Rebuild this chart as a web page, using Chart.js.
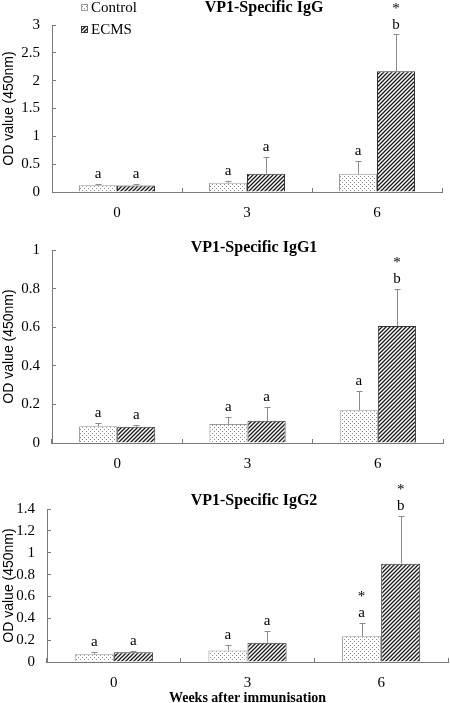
<!DOCTYPE html>
<html>
<head>
<meta charset="utf-8">
<script src="https://cdn.jsdelivr.net/npm/chart.js@4.4.1/dist/chart.umd.min.js"></script>
<style>
  html, body { margin: 0; padding: 0; background: #fff; overflow: hidden; }
  .panel { position: absolute; left: 0; }
</style>
</head>
<body>
<canvas id="chartIgG" class="panel" width="450" height="225" style="top:0"></canvas>
<canvas id="chartIgG1" class="panel" width="450" height="250" style="top:225px"></canvas>
<canvas id="chartIgG2" class="panel" width="450" height="230" style="top:475px"></canvas>
<script>
// Data
const weeks = ['0', '3', '6'];
const groupNames = ['Control', 'ECMS'];

// VP1-specific IgG
const iggControl = [0.12, 0.165, 0.33];
const iggControlSd = [0.025, 0.035, 0.225];
const iggEcms = [0.115, 0.33, 2.17];
const iggEcmsSd = [0.025, 0.305, 0.67];
const iggControlStars = [false, false, false];
const iggEcmsStars = [false, false, true];

// VP1-specific IgG1
const igg1Control = [0.087, 0.099, 0.17];
const igg1ControlSd = [0.017, 0.034, 0.099];
const igg1Ecms = [0.084, 0.115, 0.606];
const igg1EcmsSd = [0.01, 0.072, 0.19];
const igg1ControlStars = [false, false, false];
const igg1EcmsStars = [false, false, true];

// VP1-specific IgG2
const igg2Control = [0.07, 0.105, 0.235];
const igg2ControlSd = [0.017, 0.047, 0.12];
const igg2Ecms = [0.09, 0.177, 0.9];
const igg2EcmsSd = [0.012, 0.107, 0.435];
const igg2ControlStars = [false, false, true];
const igg2EcmsStars = [false, false, true];

const controlLetters = ['a', 'a', 'a'];
const ecmsLetters = ['a', 'a', 'b'];

const SERIF = "'Liberation Serif', 'Times New Roman', serif";
const SANS = "'Liberation Sans', Arial, sans-serif";
const AXIS = '#7a7a7a';

// Fill patterns
function dotPattern(ctx) {
    const c = document.createElement('canvas');
    c.width = 4; c.height = 4;
    const g = c.getContext('2d');
    g.fillStyle = '#fff';
    g.fillRect(0, 0, 4, 4);
    g.fillStyle = '#8a8a8a';
    g.fillRect(0, 0, 1, 1);
    g.fillRect(2, 2, 1, 1);
    return ctx.createPattern(c, 'repeat');
}

function hatchPattern(ctx) {
    const c = document.createElement('canvas');
    c.width = 4; c.height = 4;
    const g = c.getContext('2d');
    g.fillStyle = '#fff';
    g.fillRect(0, 0, 4, 4);
    g.strokeStyle = '#1a1a1a';
    g.lineWidth = 1.3;
    g.beginPath();
    g.moveTo(-1, 5); g.lineTo(5, -1);
    g.moveTo(-1, 1); g.lineTo(1, -1);
    g.moveTo(3, 5); g.lineTo(5, 3);
    g.stroke();
    return ctx.createPattern(c, 'repeat');
}

// Error bars, significance letters, panel title and legend
const decorations = {
    id: 'decorations',
    afterDatasetsDraw(chart, args, opts) {
        const ctx = chart.ctx;
        const yScale = chart.scales.y;
        ctx.save();
        chart.data.datasets.forEach((ds, i) => {
            const meta = chart.getDatasetMeta(i);
            meta.data.forEach((bar, j) => {
                const capY = yScale.getPixelForValue(ds.data[j] + ds.sd[j]);
                const x = Math.round(bar.x) + 0.5;
                const cy = Math.round(capY) + 0.5;
                ctx.strokeStyle = '#8c8c8c';
                ctx.lineWidth = 1;
                ctx.beginPath();
                ctx.moveTo(x, bar.y);
                ctx.lineTo(x, cy);
                ctx.moveTo(x - 3, cy);
                ctx.lineTo(x + 3, cy);
                ctx.stroke();

                ctx.fillStyle = '#000';
                ctx.font = '15px ' + SERIF;
                ctx.textAlign = 'center';
                ctx.textBaseline = 'alphabetic';
                let base = capY - opts.gap;
                if (ds.stars[j]) {
                    let starBase = base - 19;
                    if (starBase < 10) { starBase = 10; base = starBase + 19; }
                    ctx.fillText('*', bar.x, starBase + 3);
                }
                ctx.fillText(ds.letters[j], bar.x, base);
            });
        });

        ctx.fillStyle = '#000';
        ctx.font = 'bold 16px ' + SERIF;
        ctx.textAlign = 'center';
        ctx.textBaseline = 'middle';
        ctx.fillText(opts.title, opts.titleX, opts.titleY);

        if (opts.legend) {
            chart.data.datasets.forEach((ds, i) => {
                const top = 4 + i * 22;
                ctx.fillStyle = ds.backgroundColor;
                ctx.fillRect(81, top, 7, 7);
                ctx.strokeStyle = ds.borderColor;
                ctx.lineWidth = 1;
                ctx.strokeRect(81.5, top + 0.5, 6, 6);
                ctx.fillStyle = '#000';
                ctx.font = '15px ' + SERIF;
                ctx.textAlign = 'left';
                ctx.textBaseline = 'middle';
                ctx.fillText(ds.label, 91, top + 4);
            });
        }
        ctx.restore();
    }
};

function makeChart(id, series, panel) {
    const ctx = document.getElementById(id).getContext('2d');
    const dots = dotPattern(ctx);
    const hatch = hatchPattern(ctx);

    return new Chart(ctx, {
        type: 'bar',
        data: {
            labels: weeks,
            datasets: [
                {
                    label: groupNames[0],
                    data: series.control,
                    sd: series.controlSd,
                    letters: controlLetters,
                    stars: series.controlStars,
                    backgroundColor: dots,
                    borderColor: '#9a9a9a',
                    borderWidth: 1,
                    categoryPercentage: 0.585,
                    barPercentage: 1
                },
                {
                    label: groupNames[1],
                    data: series.ecms,
                    sd: series.ecmsSd,
                    letters: ecmsLetters,
                    stars: series.ecmsStars,
                    backgroundColor: hatch,
                    borderColor: '#333',
                    borderWidth: 1,
                    categoryPercentage: 0.585,
                    barPercentage: 1
                }
            ]
        },
        options: {
            responsive: false,
            animation: false,
            layout: { padding: { top: panel.top, right: panel.right, left: 0, bottom: 0 } },
            plugins: {
                legend: { display: false },
                tooltip: { enabled: false },
                decorations: {
                    gap: 6,
                    title: panel.title,
                    titleX: panel.titleX,
                    titleY: panel.titleY,
                    legend: panel.legend
                }
            },
            scales: {
                x: {
                    grid: { display: true, drawOnChartArea: false, tickLength: -4, color: AXIS, offset: true },
                    border: { color: AXIS },
                    ticks: { color: '#000', font: { family: SERIF, size: 15 }, padding: 16 },
                    title: {
                        display: !!panel.xTitle,
                        text: panel.xTitle || '',
                        color: '#000',
                        font: { family: SERIF, size: 14, weight: 'bold', lineHeight: 1 },
                        padding: 0
                    },
                    afterFit(scale) { scale.height = panel.xHeight; }
                },
                y: {
                    min: 0,
                    max: panel.max,
                    grid: { display: true, drawOnChartArea: false, tickLength: -4, color: AXIS },
                    border: { color: AXIS },
                    ticks: {
                        stepSize: panel.step,
                        color: '#000',
                        font: { family: SERIF, size: 15 },
                        padding: 16,
                        callback: v => String(Math.round(v * 100) / 100)
                    },
                    title: {
                        display: true,
                        text: 'OD value (450nm)',
                        color: '#000',
                        font: { family: SANS, size: 14 },
                        padding: { top: 1, bottom: 0 }
                    },
                    afterFit(scale) { scale.width = panel.yWidth; }
                }
            }
        },
        plugins: [decorations]
    });
}

makeChart('chartIgG',
    { control: iggControl, controlSd: iggControlSd, ecms: iggEcms, ecmsSd: iggEcmsSd,
      controlStars: iggControlStars, ecmsStars: iggEcmsStars },
    { max: 3, step: 0.5, top: 20, right: 8, yWidth: 52, xHeight: 33,
      title: 'VP1-Specific IgG', titleX: 264, titleY: 8, legend: true });

makeChart('chartIgG1',
    { control: igg1Control, controlSd: igg1ControlSd, ecms: igg1Ecms, ecmsSd: igg1EcmsSd,
      controlStars: igg1ControlStars, ecmsStars: igg1EcmsStars },
    { max: 1, step: 0.2, top: 22, right: 7, yWidth: 52, xHeight: 32,
      title: 'VP1-Specific IgG1', titleX: 254, titleY: 23, legend: false });

makeChart('chartIgG2',
    { control: igg2Control, controlSd: igg2ControlSd, ecms: igg2Ecms, ecmsSd: igg2EcmsSd,
      controlStars: igg2ControlStars, ecmsStars: igg2EcmsStars },
    { max: 1.4, step: 0.2, top: 34, right: 2, yWidth: 47, xHeight: 43,
      title: 'VP1-Specific IgG2', titleX: 254, titleY: 26, legend: false,
      xTitle: 'Weeks after immunisation' });
</script>
</body>
</html>
